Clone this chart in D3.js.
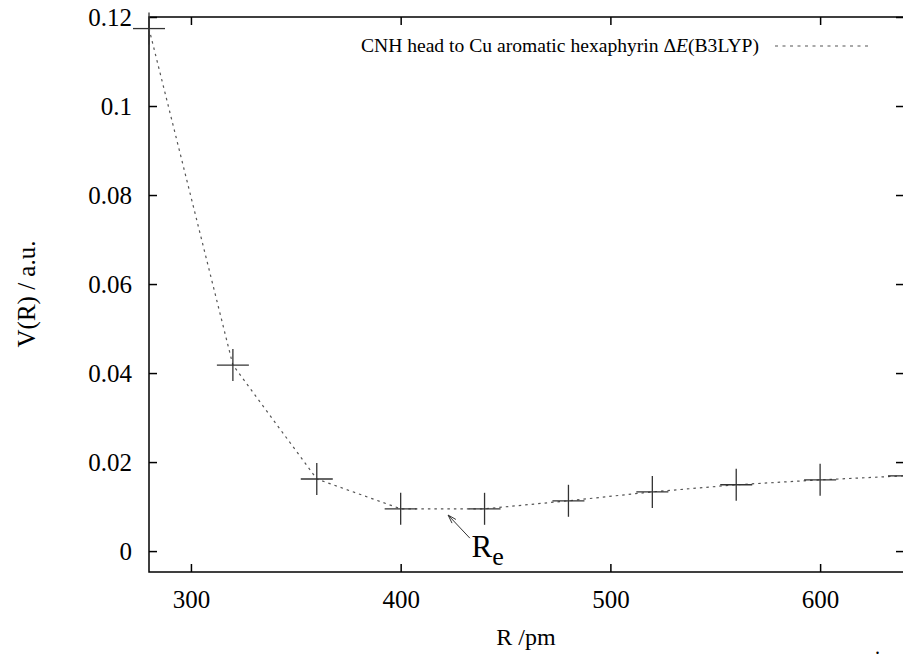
<!DOCTYPE html>
<html>
<head>
<meta charset="utf-8">
<script src="https://cdn.jsdelivr.net/npm/d3@7/dist/d3.min.js"></script>
<style>
  html, body { margin: 0; padding: 0; background: #fff; }
  svg { display: block; }
  text { font-family: "Liberation Serif", "Times New Roman", serif; fill: #000; }
</style>
</head>
<body>
<svg id="chart" width="903" height="658"></svg>
<script>
// Interaction energy curve, R in pm, V(R) in atomic units
const distances = [280, 320, 360, 400, 440, 480, 520, 560, 600, 640];
const energies  = [0.1174, 0.0418, 0.0162, 0.0095, 0.0095, 0.0113, 0.0133, 0.0149, 0.0160, 0.0169];

const xTickValues = [300, 400, 500, 600];
const xTickLabels = ["300", "400", "500", "600"];
const yTickValues = [0, 0.02, 0.04, 0.06, 0.08, 0.1, 0.12];
const yTickLabels = ["0", "0.02", "0.04", "0.06", "0.08", "0.1", "0.12"];

const seriesLabel = "CNH head to Cu aromatic hexaphyrin ";
const xTitle = "R /pm";
const yTitle = "V(R) / a.u.";
const minimumLabel = { x: 440, main: "R", sub: "e" };
const minimumArrowFrom = { x: 433, y: 0.0029 };
const minimumArrowTo = { x: 422.6, y: 0.0081 };

const svg = d3.select("#chart");
const plotLeft = 149, plotRight = 904, plotTop = 17, plotBottom = 572;

const x = d3.scaleLinear().domain([280, 640]).range([plotLeft, plotRight]);
const y = d3.scaleLinear().domain([-0.0047, 0.12]).range([plotBottom, plotTop]);

// Axes with inward ticks on all four sides
const tick = 8;
svg.append("g")
  .attr("transform", `translate(0,${plotBottom})`)
  .call(d3.axisBottom(x).tickValues(xTickValues)
    .tickFormat((d, i) => xTickLabels[i]).tickSize(-tick).tickPadding(18))
  .call(g => g.select(".domain").remove())
  .call(g => g.selectAll("text").attr("font-size", 25).attr("font-family", "Liberation Serif"));

svg.append("g")
  .attr("transform", `translate(0,${plotTop})`)
  .call(d3.axisTop(x).tickValues(xTickValues).tickFormat("").tickSize(-tick))
  .call(g => g.select(".domain").remove());

svg.append("g")
  .attr("transform", `translate(${plotLeft},0)`)
  .call(d3.axisLeft(y).tickValues(yTickValues)
    .tickFormat((d, i) => yTickLabels[i]).tickSize(-tick).tickPadding(17))
  .call(g => g.select(".domain").remove())
  .call(g => g.selectAll("text").attr("font-size", 25).attr("font-family", "Liberation Serif"));

svg.append("g")
  .attr("transform", `translate(${plotRight},0)`)
  .call(d3.axisRight(y).tickValues(yTickValues).tickFormat("").tickSize(-tick))
  .call(g => g.select(".domain").remove());

svg.selectAll(".tick line").attr("stroke", "#000").attr("stroke-width", 1.5);

// Frame
svg.append("rect")
  .attr("x", plotLeft).attr("y", plotTop)
  .attr("width", plotRight - plotLeft).attr("height", plotBottom - plotTop)
  .attr("fill", "none").attr("stroke", "#000").attr("stroke-width", 1.5);

// Dotted connecting line
const line = d3.line().x((d, i) => x(distances[i])).y(d => y(d));
svg.append("path")
  .datum(energies)
  .attr("d", line)
  .attr("fill", "none")
  .attr("stroke", "#555")
  .attr("stroke-width", 1.2)
  .attr("stroke-dasharray", "2.5,4");

// Cross markers
const half = 16;
const pts = svg.append("g").attr("stroke", "#333").attr("stroke-width", 1.3);
energies.forEach((v, i) => {
  const cx = x(distances[i]), cy = y(v);
  pts.append("line").attr("x1", cx - half).attr("x2", cx + half).attr("y1", cy).attr("y2", cy);
  pts.append("line").attr("x1", cx).attr("x2", cx).attr("y1", cy - half).attr("y2", cy + half);
});

// Legend
const legendY = 46;
const legendText = svg.append("text")
  .attr("x", 759).attr("y", legendY + 6)
  .attr("text-anchor", "end")
  .attr("font-size", 19.6);
legendText.append("tspan").text(seriesLabel + "\u0394");
legendText.append("tspan").attr("font-style", "italic").text("E");
legendText.append("tspan").text("(B3LYP)");

svg.append("line")
  .attr("x1", 775).attr("x2", 871)
  .attr("y1", legendY).attr("y2", legendY)
  .attr("stroke", "#555").attr("stroke-width", 1.2)
  .attr("stroke-dasharray", "3,4.5");

// Equilibrium distance annotation
const ax1 = x(minimumArrowFrom.x), ay1 = y(minimumArrowFrom.y);
const ax2 = x(minimumArrowTo.x), ay2 = y(minimumArrowTo.y);
svg.append("line")
  .attr("x1", ax1).attr("y1", ay1).attr("x2", ax2).attr("y2", ay2)
  .attr("stroke", "#333").attr("stroke-width", 1);
const ang = Math.atan2(ay1 - ay2, ax1 - ax2);
const headLen = 9, spread = 0.3;
svg.append("path")
  .attr("d", `M${ax2 + headLen * Math.cos(ang - spread)},${ay2 + headLen * Math.sin(ang - spread)}L${ax2},${ay2}L${ax2 + headLen * Math.cos(ang + spread)},${ay2 + headLen * Math.sin(ang + spread)}`)
  .attr("fill", "none").attr("stroke", "#333").attr("stroke-width", 1);

const re = svg.append("text")
  .attr("x", x(minimumLabel.x) - 13).attr("y", 557)
  .attr("font-size", 31);
re.append("tspan").text(minimumLabel.main);
re.append("tspan").attr("dy", 8).attr("font-size", 26).text(minimumLabel.sub);

// Axis titles
svg.append("text")
  .attr("x", 526).attr("y", 645)
  .attr("text-anchor", "middle")
  .attr("font-size", 24)
  .text(xTitle);

svg.append("text")
  .attr("transform", "translate(35,294) rotate(-90)")
  .attr("text-anchor", "middle")
  .attr("font-size", 25)
  .text(yTitle);

svg.append("text")
  .attr("x", 875).attr("y", 654)
  .attr("font-size", 20)
  .text(".");
</script>
</body>
</html>
